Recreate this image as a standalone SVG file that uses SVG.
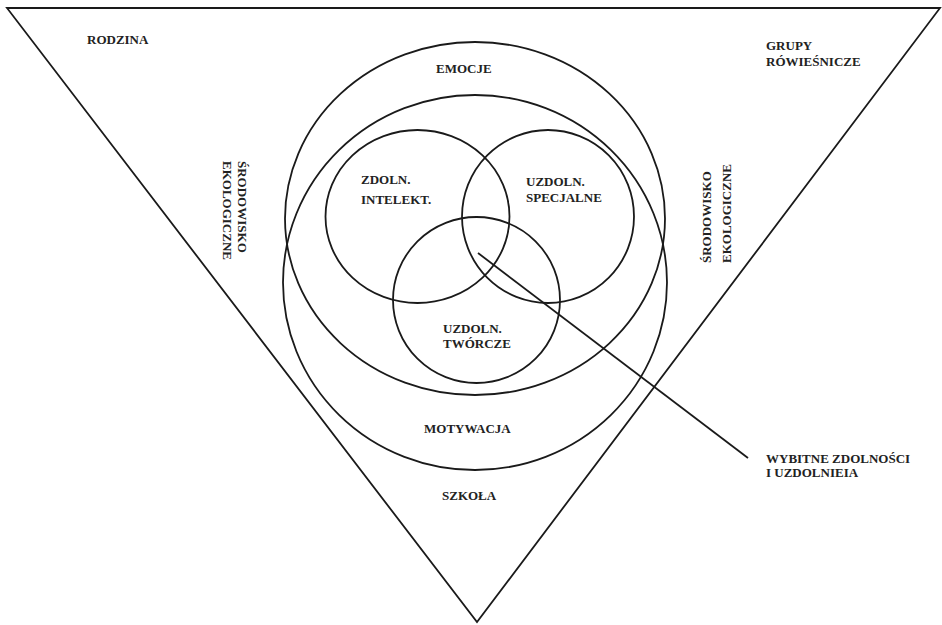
<svg xmlns="http://www.w3.org/2000/svg" width="942" height="625" viewBox="0 0 942 625">
<style>
.ln{fill:none;stroke:#1a1a1a;stroke-width:1.8}
.t{font-family:"Liberation Serif","Times New Roman",serif;font-weight:bold;font-size:13px;fill:#222}
</style>
<rect width="942" height="625" fill="#fff"/>
<g id="triangle"><polygon class="ln" points="7,8 940,8 477,622" stroke-width="2"/></g>
<g id="emocje"><ellipse class="ln" cx="475" cy="218.5" rx="190" ry="176.5"/><text class="t" x="436" y="73">EMOCJE</text></g>
<g id="motywacja"><ellipse class="ln" cx="475" cy="282.5" rx="192" ry="187.5"/><text class="t" x="424" y="433">MOTYWACJA</text></g>
<g id="zdoln"><ellipse class="ln" cx="417.5" cy="216.5" rx="92" ry="86.5"/><text class="t" x="361" y="184">ZDOLN.</text><text class="t" x="361" y="204">INTELEKT.</text></g>
<g id="specjalne"><ellipse class="ln" cx="548" cy="216.5" rx="86" ry="86.5"/><text class="t" x="526" y="186">UZDOLN.</text><text class="t" x="526" y="202">SPECJALNE</text></g>
<g id="tworcze"><ellipse class="ln" cx="476.5" cy="300" rx="83.5" ry="83"/><text class="t" x="443" y="333">UZDOLN.</text><text class="t" x="443" y="348">TWÓRCZE</text></g>
<g id="rodzina"><text class="t" x="87" y="44">RODZINA</text></g>
<g id="grupy"><text class="t" x="766" y="50">GRUPY</text><text class="t" x="766" y="66">RÓWIEŚNICZE</text></g>
<g id="szkola"><text class="t" x="442" y="500">SZKOŁA</text></g>
<g id="srodowisko-left" transform="translate(238,161) rotate(90)"><text class="t" x="0" y="0">ŚRODOWISKO</text><text class="t" x="0" y="15">EKOLOGICZNE</text></g>
<g id="srodowisko-right" transform="translate(711,263) rotate(-90)"><text class="t" x="0" y="0">ŚRODOWISKO</text><text class="t" x="0" y="20">EKOLOGICZNE</text></g>
<g id="wybitne"><text class="t" x="766" y="463">WYBITNE ZDOLNOŚCI</text><text class="t" x="766" y="477">I UZDOLNIEIA</text></g>
<g id="connectors"><line class="ln" x1="478" y1="253" x2="748" y2="458"/></g>
</svg>
